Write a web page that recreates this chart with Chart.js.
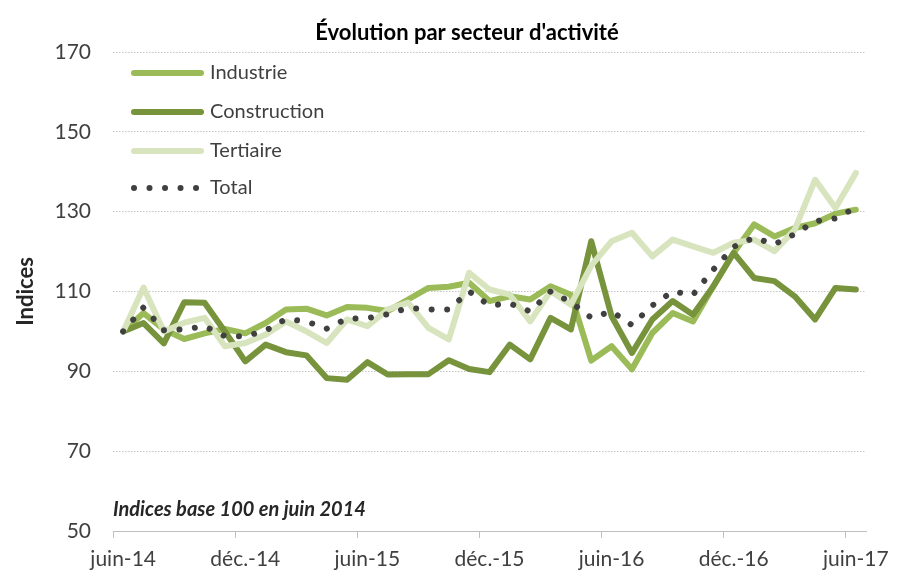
<!DOCTYPE html>
<html lang="fr">
<head>
<meta charset="utf-8">
<script src="https://cdn.jsdelivr.net/npm/chart.js@4.4.1/dist/chart.umd.min.js"></script>
<style>
  body { margin: 0; background: #fff; }
  #wrap { width: 912px; height: 576px; }
</style>
</head>
<body>
<div id="wrap"><canvas id="secteurChart" width="912" height="576"></canvas></div>
<script>
// Mois (juin 2014 -> juin 2017)
const months = [
  "juin-14", "juil.-14", "août-14", "sept.-14", "oct.-14", "nov.-14",
  "déc.-14", "janv.-15", "févr.-15", "mars-15", "avr.-15", "mai-15",
  "juin-15", "juil.-15", "août-15", "sept.-15", "oct.-15", "nov.-15",
  "déc.-15", "janv.-16", "févr.-16", "mars-16", "avr.-16", "mai-16",
  "juin-16", "juil.-16", "août-16", "sept.-16", "oct.-16", "nov.-16",
  "déc.-16", "janv.-17", "févr.-17", "mars-17", "avr.-17", "mai-17",
  "juin-17"
];

const industrie = [
  100, 104.6, 100.5, 98.1, 99.5, 100.6, 99.5, 102.1, 105.5, 105.7, 104, 106.1,
  105.9, 105.1, 108, 110.9, 111.2, 112.2, 107.6, 108.8, 108, 111.3, 109.2, 92.7,
  96.3, 90.5, 99.6, 104.6, 102.5, 111.3, 119.7, 126.8, 123.8, 125.9, 127.1, 129.5,
  130.5
];

const construction = [
  100, 102.1, 97, 107.3, 107.2, 100, 92.5, 96.7, 94.8, 94, 88.3, 87.9,
  92.3, 89.2, 89.3, 89.3, 92.8, 90.6, 89.8, 96.7, 93, 103.4, 100.5, 122.6,
  103.8, 94.6, 103, 107.6, 104.2, 111.3, 119.7, 113.4, 112.6, 108.8, 103, 110.9,
  110.5
];

const tertiaire = [
  100, 111, 100, 102.2, 103.4, 96.3, 97.1, 99.2, 102.5, 100, 97.1, 103,
  101.3, 105.5, 107.2, 100.9, 98, 114.7, 110.5, 109.2, 102.5, 110.1, 106.7, 116.5,
  122.6, 124.7, 118.8, 123, 121.3, 119.7, 122.2, 123, 120.1, 125.5, 138, 130.9,
  139.7
];

const total = [
  100, 106, 100.3, 100.5, 101.3, 98.8, 98.8, 100.2, 103.1, 102.5, 100.7, 103.2,
  103.3, 104.3, 105.9, 105.5, 105.5, 110, 106.5, 107, 105, 110, 107.3, 103.4,
  105, 101.6, 106.5, 110, 109.2, 115.5, 121.2, 123.5, 121.8, 124.4, 127.6, 128.3,
  131
];

const yTicks = [50, 70, 90, 110, 130, 150, 170];

const FONT = "Lato, 'Open Sans', sans-serif";
const gridGrey = "#c4c4c4";

// legende, titre et note dessines a la main (legende dans la zone du graphique)
const decorPlugin = {
  id: "decor",
  afterDraw(chart) {
    const ctx = chart.ctx;
    ctx.save();
    // titre
    ctx.fillStyle = "#000";
    ctx.font = "bold 22px " + FONT;
    ctx.textAlign = "center";
    ctx.textBaseline = "middle";
    ctx.fillText("Évolution par secteur d'activité", 467, 33);

    // note
    ctx.font = "italic bold 20px " + FONT;
    ctx.textAlign = "left";
    ctx.fillStyle = "#262626";
    ctx.fillText("Indices base 100 en juin 2014", 113, 510);

    // legende
    const rows = [73, 112, 151, 188];
    chart.data.datasets.forEach((ds, i) => {
      const y = rows[i];
      ctx.beginPath();
      ctx.strokeStyle = ds.borderColor;
      ctx.lineWidth = ds.borderWidth;
      ctx.lineCap = "round";
      ctx.setLineDash(ds.borderDash || []);
      ctx.moveTo(134, y);
      ctx.lineTo(201, y);
      ctx.stroke();
      ctx.setLineDash([]);
      ctx.fillStyle = "#404040";
      ctx.font = "20px " + FONT;
      ctx.textBaseline = "middle";
      ctx.fillText(ds.label, 210, y);
    });
    ctx.restore();
  }
};

const lineBase = {
  borderWidth: 6,
  pointRadius: 0,
  pointHoverRadius: 0,
  tension: 0,
  fill: false,
  borderJoinStyle: "round",
  borderCapStyle: "round",
};

new Chart(document.getElementById("secteurChart"), {
  type: "line",
  data: {
    labels: months,
    datasets: [
      { ...lineBase, label: "Industrie", data: industrie, borderColor: "#9bbb59", order: 3 },
      { ...lineBase, label: "Construction", data: construction, borderColor: "#77933c", order: 2 },
      { ...lineBase, label: "Tertiaire", data: tertiaire, borderColor: "#d7e4bd", order: 1 },
      { ...lineBase, label: "Total", data: total, borderColor: "#404040", borderWidth: 6,
        borderDash: [0.01, 15.5], order: 0 },
    ],
  },
  options: {
    responsive: false,
    animation: false,
    layout: { padding: { top: 52, right: 46, left: 0, bottom: 0 } },
    plugins: {
      legend: { display: false },
      title: { display: false },
      tooltip: { enabled: false },
    },
    scales: {
      x: {
        type: "category",
        offset: true,
        grid: {
          offset: true,
          drawOnChartArea: false,
          drawTicks: true,
          tickLength: 7,
          color: (c) => (c.index % 6 === 0 ? "#bfbfbf" : "rgba(0,0,0,0)"),
        },
        border: { display: true, color: "#bfbfbf", width: 1 },
        ticks: {
          autoSkip: false,
          maxRotation: 0,
          padding: 9,
          color: "#404040",
          font: { family: FONT, size: 21 },
          callback: function (value, index) {
            return index % 6 === 0 ? this.getLabelForValue(value) : "";
          },
        },
        afterFit: (scale) => { scale.height = 45; },
      },
      y: {
        min: 50,
        max: 170,
        afterBuildTicks: (scale) => {
          scale.ticks = yTicks.map((v) => ({ value: v }));
        },
        grid: {
          color: gridGrey,
          drawTicks: false,
          lineWidth: 1,
        },
        border: { display: false, dash: [1.5, 1.5] },
        ticks: {
          padding: 22,
          color: "#404040",
          font: { family: FONT, size: 21 },
        },
        title: {
          display: true,
          text: "Indices",
          color: "#262626",
          padding: { top: 13, bottom: 0 },
          font: { family: FONT, size: 22, weight: "bold" },
        },
        afterFit: (scale) => { scale.width = 113; },
      },
    },
  },
  plugins: [decorPlugin],
});
</script>
</body>
</html>
